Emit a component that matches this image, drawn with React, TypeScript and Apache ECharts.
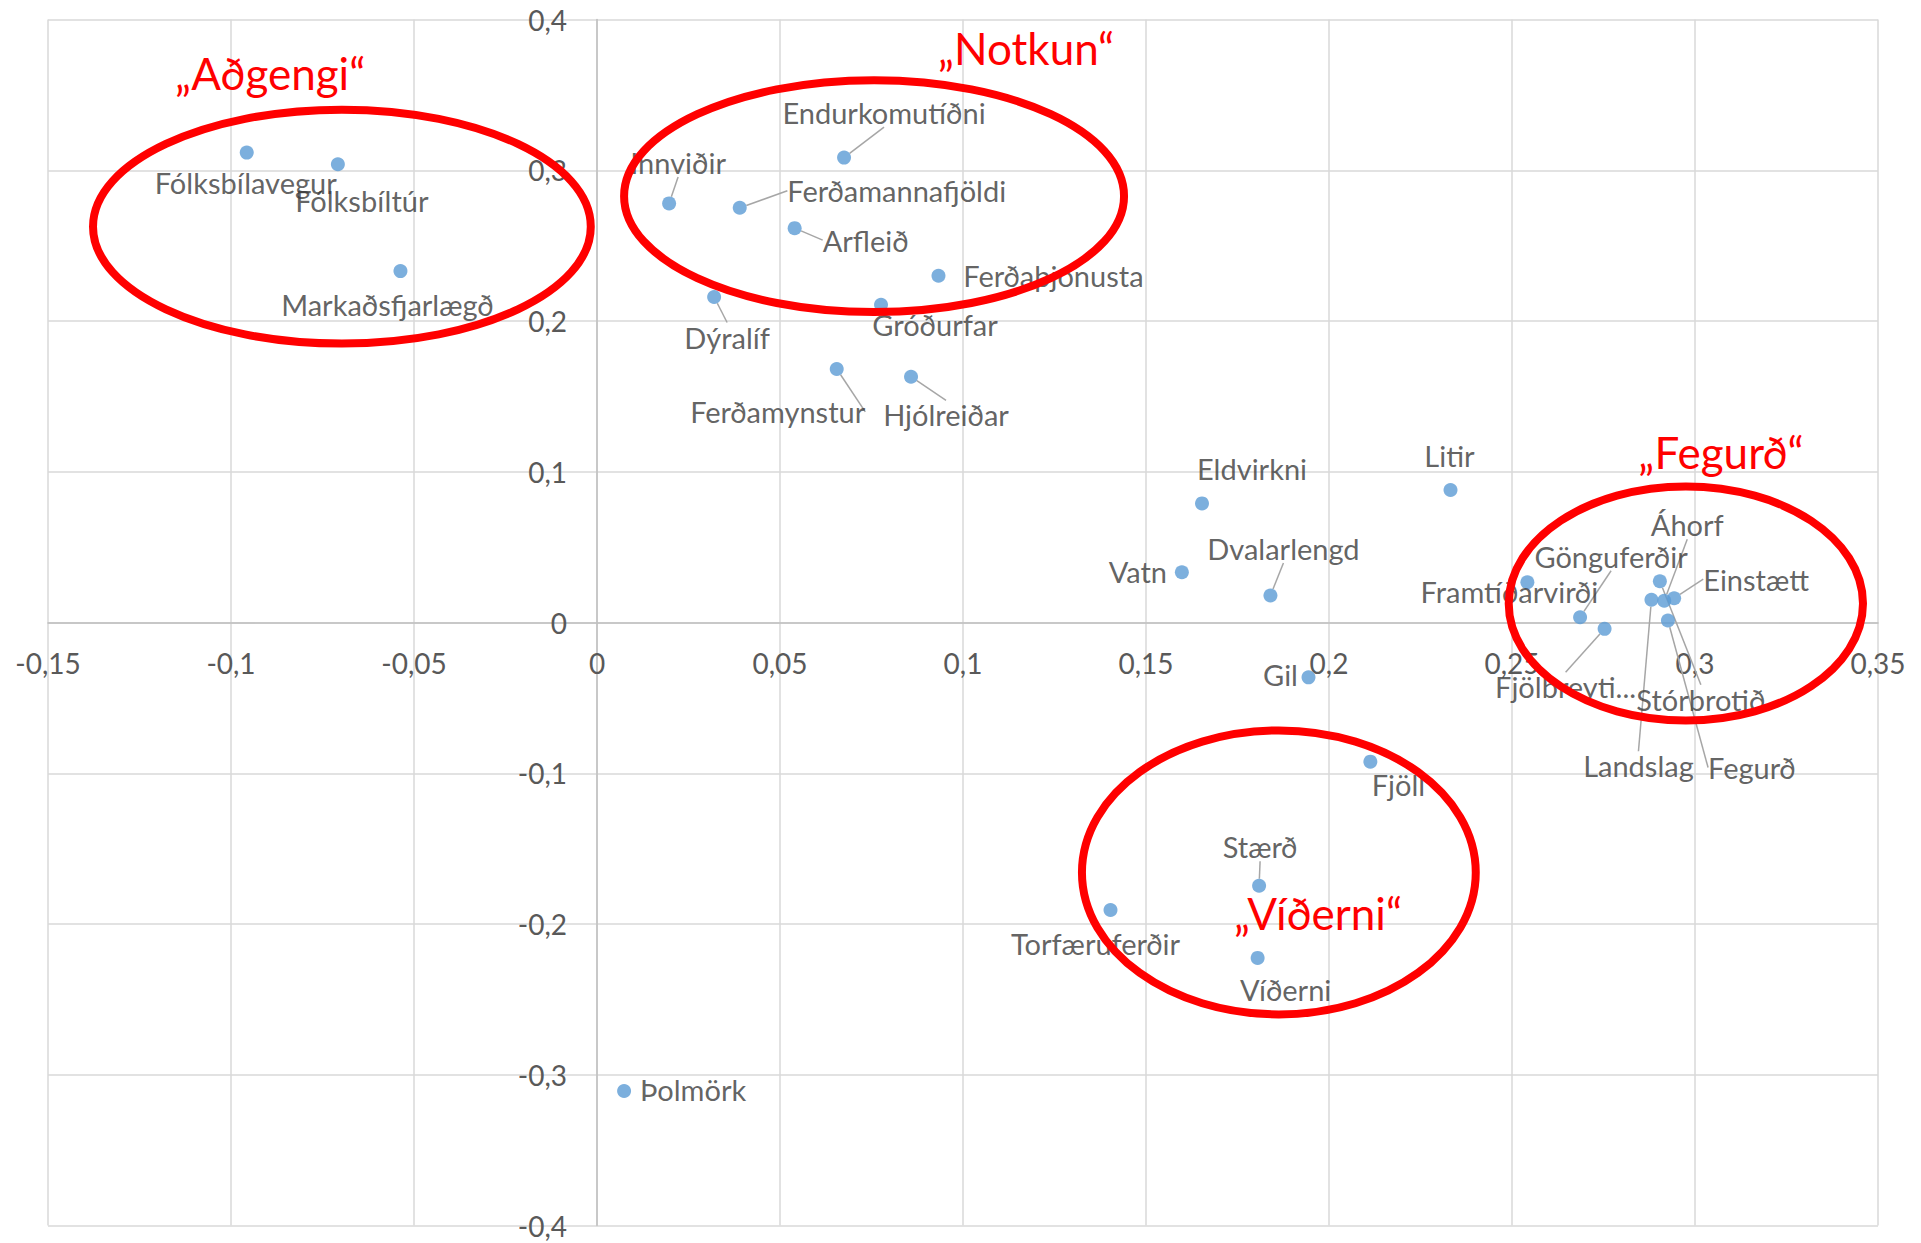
import React, { useEffect, useRef } from "react";
import * as echarts from "echarts";

// ---- data ----
const names = [
  "Fólksbílavegur", "Fólksbíltúr", "Markaðsfjarlægð",
  "Endurkomutíðni", "Innviðir", "Ferðamannafjöldi", "Arfleið", "Ferðaþjónusta",
  "Dýralíf", "Gróðurfar", "Ferðamynstur", "Hjólreiðar",
  "Eldvirkni", "Litir", "Vatn", "Dvalarlengd", "Gil", "Fjöll",
  "Stærð", "Torfæruferðir", "Víðerni", "Þolmörk",
  "Framtíðarvirði", "Gönguferðir", "Fjölbreyti...", "Áhorf", "Einstætt",
  "Stórbrotið", "Landslag", "Fegurð",
];
const xValues = [
  -0.0957, -0.0708, -0.0537,
  0.0675, 0.0197, 0.039, 0.054, 0.0933,
  0.032, 0.0776, 0.0655, 0.0858,
  0.1653, 0.2332, 0.1598, 0.184, 0.1944, 0.2113,
  0.1809, 0.1403, 0.1805, 0.0074,
  0.2542, 0.2686, 0.2753, 0.2916, 0.2943,
  0.2904, 0.2881, 0.2926,
];
const yValues = [
  0.3117, 0.304, 0.2331,
  0.3084, 0.278, 0.2751, 0.2616, 0.23,
  0.2159, 0.2108, 0.1682, 0.163,
  0.079, 0.0879, 0.0333, 0.0179, -0.0364, -0.0923,
  -0.1746, -0.1907, -0.2225, -0.3108,
  0.0267, 0.0035, -0.0042, 0.0144, 0.0161,
  0.0274, 0.0151, 0.0013,
];

// axis ticks
const xMin = -0.15, xMax = 0.35, xStep = 0.05;
const yMin = -0.4, yMax = 0.4, yStep = 0.1;

// group annotations (data units)
const groupTexts = ["„Aðgengi“", "„Notkun“", "„Fegurð“", "„Víðerni“"];
const groupTextX = [-0.0893, 0.1172, 0.3071, 0.197];
const groupTextY = [0.3644, 0.381, 0.1131, -0.1926];
const ellipseCX = [-0.0697, 0.0757, 0.2975, 0.1863];
const ellipseCY = [0.2626, 0.2828, 0.0126, -0.1658];
const ellipseRX = [0.068, 0.0683, 0.0484, 0.0538];
const ellipseRY = [0.0776, 0.0769, 0.0776, 0.0942];

// ---- layout (label placement, px relative to point) ----
const labelOffsets: Record<string, [number, number]> = {
  "Fólksbílavegur": [-1, 30],
  "Fólksbíltúr": [24, 36],
  "Markaðsfjarlægð": [-13, 33],
  "Endurkomutíðni": [40, -45],
  "Innviðir": [9, -41],
  "Ferðamannafjöldi": [157, -17],
  "Arfleið": [71, 12],
  "Ferðaþjónusta": [115, 0],
  "Dýralíf": [13, 40],
  "Gróðurfar": [54, 20],
  "Ferðamynstur": [-59, 43],
  "Hjólreiðar": [35, 38],
  "Eldvirkni": [50, -35],
  "Litir": [-1, -34],
  "Vatn": [-44, -1],
  "Dvalarlengd": [13, -47],
  "Gil": [-28, -3],
  "Fjöll": [28, 23],
  "Stærð": [1, -39],
  "Torfæruferðir": [-15, 34],
  "Víðerni": [28, 32],
  "Þolmörk": [69, -2],
  "Framtíðarvirði": [-18, 9],
  "Gönguferðir": [31, -61],
  "Fjölbreyti...": [-39, 58],
  "Áhorf": [23, -76],
  "Einstætt": [82, -19],
  "Stórbrotið": [41, 118],
  "Landslag": [-13, 166],
  "Fegurð": [84, 147],
};
const leaderNames = [
  "Endurkomutíðni", "Innviðir", "Ferðamannafjöldi", "Arfleið", "Dýralíf",
  "Ferðamynstur", "Hjólreiðar", "Dvalarlengd", "Stærð", "Gönguferðir",
  "Fjölbreyti...", "Áhorf", "Einstætt", "Stórbrotið", "Landslag", "Fegurð",
];

const FONT = "Lato, 'Open Sans', sans-serif";
const fmt = (v: number) => String(Number(v.toFixed(2))).replace(".", ",");

export default function App() {
  const ref = useRef<HTMLDivElement>(null);
  useEffect(() => {
    if (!ref.current) return;
    const chart = echarts.init(ref.current, undefined, { renderer: "svg" });
    const axisCommon = {
      type: "value" as const,
      axisLine: { onZero: false, lineStyle: { color: "#BFBFBF", width: 1.5 } },
      axisTick: { show: false },
      splitLine: { show: true, lineStyle: { color: "#D9D9D9", width: 1.5 } },
    };
    chart.setOption({
      animation: false,
      backgroundColor: "#FFFFFF",
      grid: {
        left: 48, right: 43, top: 19.5, bottom: 17.5,
        containLabel: false, outerBoundsMode: "none",
      },
      xAxis: {
        ...axisCommon,
        position: "bottom",
        min: xMin, max: xMax, interval: xStep,
        axisLabel: {
          formatter: fmt, color: "#595959", fontSize: 28, fontFamily: FONT,
          margin: 26, showMinLabel: true, showMaxLabel: true,
        },
      },
      yAxis: {
        ...axisCommon,
        position: "left",
        min: yMin, max: yMax, interval: yStep,
        axisLabel: {
          formatter: fmt, color: "#595959", fontSize: 28, fontFamily: FONT,
          margin: 30, showMinLabel: true, showMaxLabel: true,
        },
      },
      series: [
        {
          type: "scatter",
          symbolSize: 14,
          itemStyle: { color: "#5B9BD5" },
          data: names.map((n, i) => ({
            name: n,
            value: [xValues[i], yValues[i]],
            labelLine: { show: leaderNames.includes(n) },
          })),
          label: {
            show: true, position: "inside", formatter: "{b}",
            color: "#3A3A3A", fontSize: 29, fontFamily: FONT,
          },
          labelLine: { show: false, lineStyle: { color: "#A6A6A6", width: 1.5 } },
          labelLayout: (p: any) => {
            const o = labelOffsets[names[p.dataIndex]] || [0, 0];
            return { dx: o[0], dy: o[1] };
          },
        },
      ],
    });
    // move both axes (line + labels) onto the zero lines
    const p0 = chart.convertToPixel({ gridIndex: 0 }, [0, 0]) as number[];
    const pMin = chart.convertToPixel({ gridIndex: 0 }, [xMin, yMin]) as number[];
    const graphics: any[] = [];
    for (let i = 0; i < groupTexts.length; i++) {
      const c = chart.convertToPixel({ gridIndex: 0 }, [ellipseCX[i], ellipseCY[i]]) as number[];
      const ex = chart.convertToPixel({ gridIndex: 0 }, [ellipseCX[i] + ellipseRX[i], ellipseCY[i] + ellipseRY[i]]) as number[];
      graphics.push({
        type: "ellipse",
        shape: { cx: c[0], cy: c[1], rx: Math.abs(ex[0] - c[0]), ry: Math.abs(ex[1] - c[1]) },
        style: { fill: "none", stroke: "#FF0000", lineWidth: 8 },
        z: 100,
      });
      const t = chart.convertToPixel({ gridIndex: 0 }, [groupTextX[i], groupTextY[i]]) as number[];
      graphics.push({
        type: "text",
        x: t[0], y: t[1],
        style: {
          text: groupTexts[i], fill: "#FF0000", fontSize: 44, fontFamily: FONT,
          align: "center", verticalAlign: "middle",
          textAlign: "center", textVerticalAlign: "middle",
        },
        z: 101,
      });
    }
    chart.setOption({
      xAxis: { offset: -(pMin[1] - p0[1]) },
      yAxis: { offset: -(p0[0] - pMin[0]) },
      graphic: graphics,
    });
    return () => chart.dispose();
  }, []);
  return (
    <div
      ref={ref}
      style={{ position: "absolute", left: 0, top: 0, width: 1921, height: 1243, background: "#fff" }}
    />
  );
}
